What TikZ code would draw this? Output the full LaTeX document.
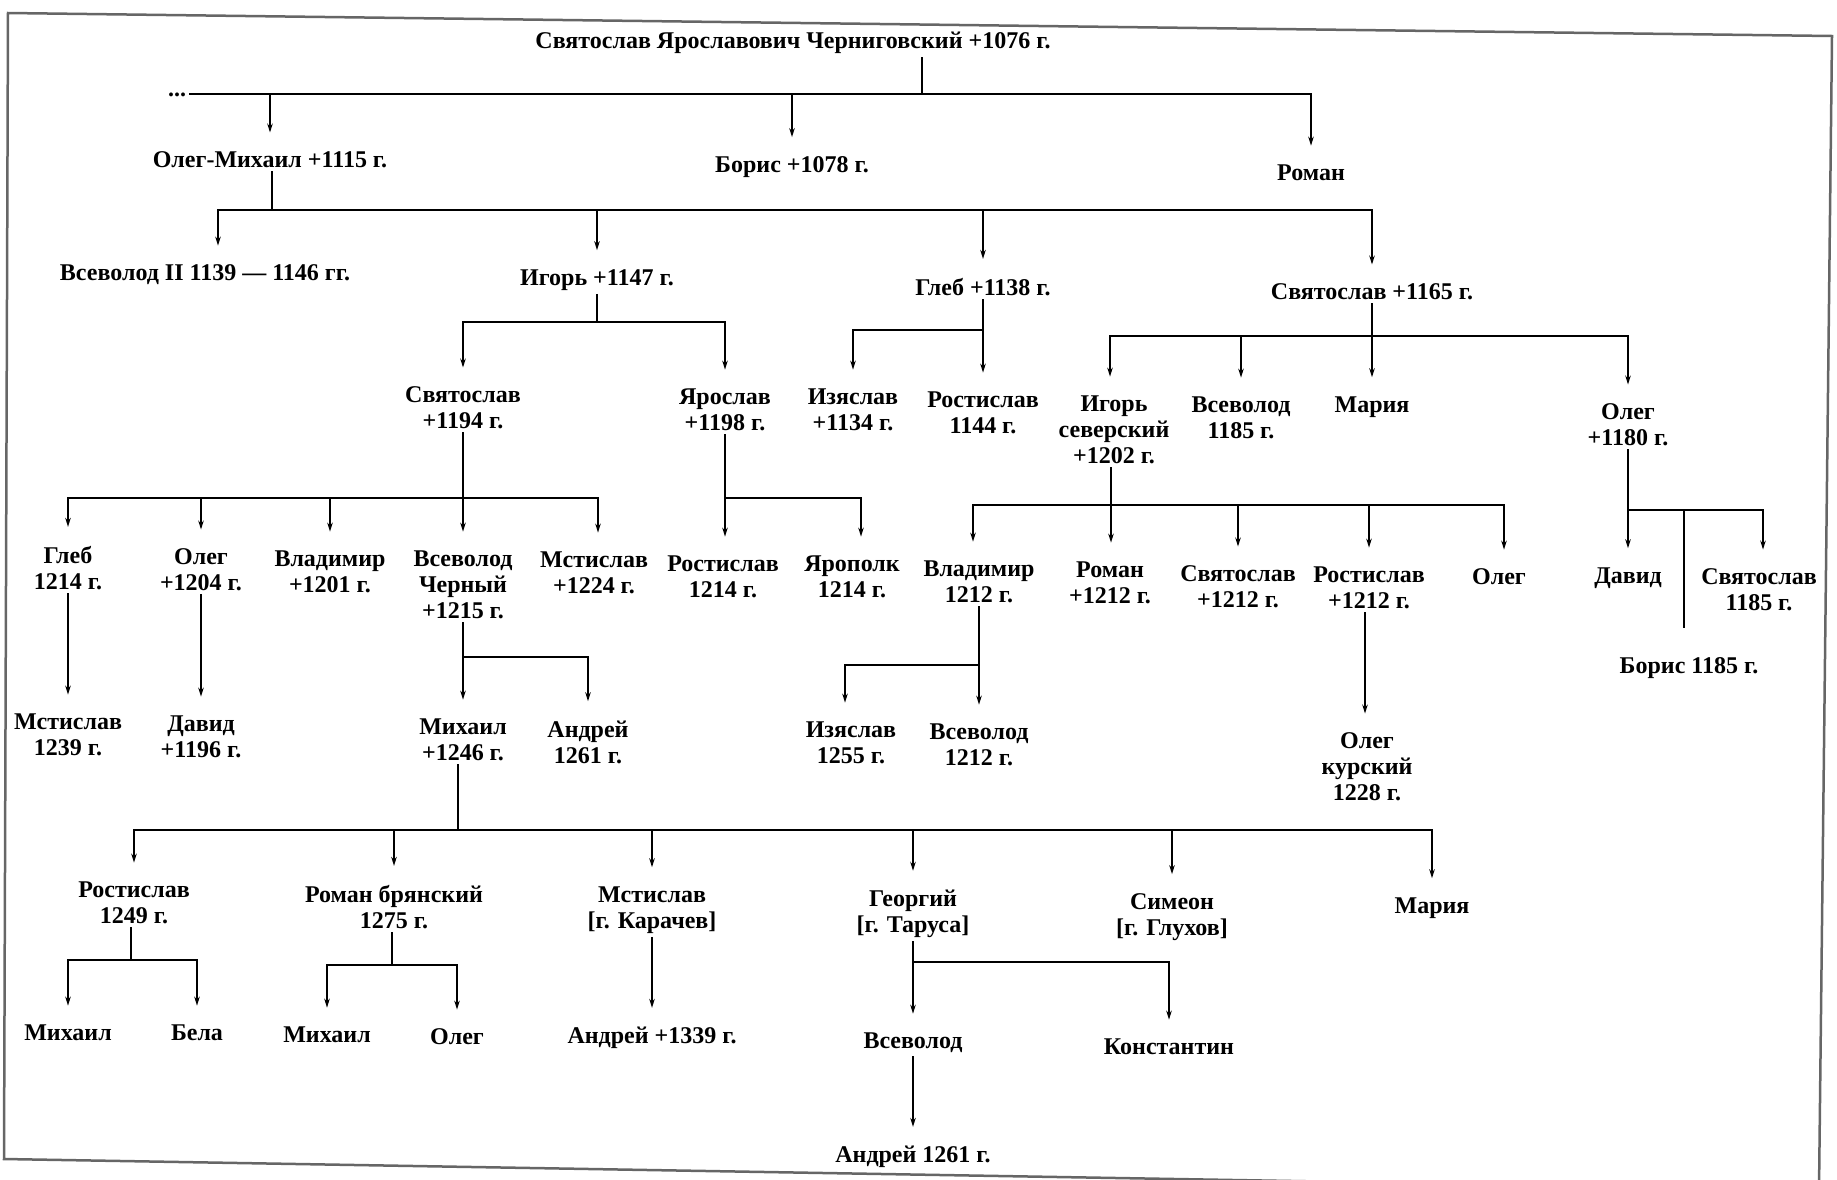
\documentclass[tikz,border=0pt]{standalone}
\usepackage{fontspec}
\setmainfont{Liberation Serif}
\usetikzlibrary{arrows.meta}

\begin{document}
\begin{tikzpicture}[x=1pt,y=-1pt,line width=2.7pt,
    person/.style={align=center, font=\fontsize{24}{26}\selectfont\bfseries, inner sep=2pt},
    arr/.style={-{Stealth[length=9pt,width=5.5pt]}, shorten >=16pt},
    tail/.style={shorten >=26pt}]
        \useasboundingbox (0,0) rectangle (1837,1179);
        % Page frame
        \draw[black!60, line width=2.5pt] (8,13) -- (1832,36) -- (1819,1190) -- (4,1159) -- cycle;

        % --- GENERATION 0 ---
        \node[person] (sv0) at (793,43) {Святослав Ярославович Черниговский +1076 г.};
        \node[person] (dots) at (177,95) {...};
        \node[person] (om) at (270,160) {Олег-Михаил +1115 г.};
        \node[person] (bor) at (792,167) {Борис +1078 г.};
        \node[person] (rom) at (1311,173) {Роман};
        \coordinate (b0) at (922,94);
        \draw (sv0.south -| b0) -- (b0);
        \draw (dots.east |- b0) -- (b0);
        \draw[arr] (b0) -| (rom.north);
        \foreach \c in {om,bor} \draw[arr] (\c |- b0) -- (\c.north);

        % --- GENERATION 1 ---
        \node[person] (vs2) at (205,275) {Всеволод II 1139 — 1146 гг.};
        \node[person] (ig) at (597,280) {Игорь +1147 г.};
        \node[person] (gl) at (983,287) {Глеб +1138 г.};
        \node[person] (sv1) at (1372,292) {Святослав +1165 г.};
        \coordinate (b1) at (272,210);
        \draw (om.south -| b1) -- (b1);
        \draw[arr] (b1) -| ([xshift=13pt]vs2.north);
        \draw[arr] (b1) -| (sv1.north);
        \foreach \c in {ig,gl} \draw[arr] (\c |- b1) -- (\c.north);

        % --- GENERATION 2 ---
        \node[person] (sv2) at (463,408) {Святослав\\+1194 г.};
        \node[person] (ya) at (725,410) {Ярослав\\+1198 г.};
        \node[person] (iz) at (853,410) {Изяслав\\+1134 г.};
        \node[person] (ro1) at (983,413) {Ростислав\\1144 г.};
        \node[person] (igs) at (1114,430) {Игорь\\северский\\+1202 г.};
        \node[person] (vs3) at (1241,418) {Всеволод\\1185 г.};
        \node[person] (mar) at (1372,407) {Мария};
        \node[person] (ol1) at (1628,425) {Олег\\+1180 г.};
        % Igor
        \coordinate (b2a) at (597,322);
        \draw (ig.south) -- (b2a);
        \draw[arr] (b2a) -| (sv2.north);
        \draw[arr] (b2a) -| (ya.north);
        % Gleb
        \coordinate (b2b) at (983,330);
        \draw[arr] (gl.south) -- (ro1.north);
        \draw[arr] (b2b) -| (iz.north);
        % Svyatoslav
        \coordinate (b2c) at (1372,336);
        \draw[arr] (sv1.south) -- (mar.north);
        \draw[arr] (b2c) -| ([xshift=-4pt]igs.north);
        \draw[arr] (b2c) -| (ol1.north);
        \draw[arr] (vs3 |- b2c) -- (vs3.north);

        % --- GENERATION 3 ---
        \node[person] (g2) at (68,568) {Глеб\\1214 г.};
        \node[person] (o2) at (201,570) {Олег\\+1204 г.};
        \node[person] (vl2) at (330,572) {Владимир\\+1201 г.};
        \node[person] (vsc) at (463,585) {Всеволод\\Черный\\+1215 г.};
        \node[person] (ms2) at (594,573) {Мстислав\\+1224 г.};
        \node[person] (ro2) at (723,577) {Ростислав\\1214 г.};
        \node[person] (yp) at (852,577) {Ярополк\\1214 г.};
        \node[person] (vl3) at (979,582) {Владимир\\1212 г.};
        \node[person] (ro3) at (1110,583) {Роман\\+1212 г.};
        \node[person] (sv3) at (1238,587) {Святослав\\+1212 г.};
        \node[person] (ro4) at (1369,588) {Ростислав\\+1212 г.};
        \node[person] (ol3) at (1499,577) {Олег};
        \node[person] (dav) at (1628,578) {Давид};
        \node[person] (sv4) at (1759,590) {Святослав\\1185 г.};
        \node[person] (bor2) at (1689,668) {Борис 1185 г.};
        % Svyatoslav +1194
        \coordinate (b3a) at (463,498);
        \draw[arr] (sv2.south) -- (vsc.north);
        \draw[arr] (b3a) -| (g2.north);
        \draw[arr] (b3a) -| ([xshift=4pt]ms2.north);
        \foreach \c in {o2,vl2} \draw[arr] (\c |- b3a) -- (\c.north);
        % Yaroslav
        \coordinate (b3b) at (725,498);
        \draw[arr] (ya.south) -- (ya.south |- ro2.north);
        \draw[arr] (b3b) -| ([xshift=9pt]yp.north);
        % Igor severskiy
        \coordinate (b3c) at (1111,505);
        \draw[arr] (igs.south -| b3c) -- (b3c |- ro3.north);
        \draw[arr] (b3c) -| ([xshift=-6pt]vl3.north);
        \draw[arr] (b3c) -| ([xshift=5pt]ol3.north);
        \foreach \c in {sv3,ro4} \draw[arr] (\c |- b3c) -- (\c.north);
        % Oleg +1180
        \coordinate (b3d) at (1628,510);
        \draw[arr] (ol1.south) -- (dav.north);
        \draw[arr] (b3d) -| ([xshift=4pt]sv4.north);
        \draw[tail] ([xshift=-5pt]bor2.north |- b3d) -- ([xshift=-5pt]bor2.north);

        % --- GENERATION 4 ---
        \node[person] (ms3) at (68,735) {Мстислав\\1239 г.};
        \node[person] (dv) at (201,737) {Давид\\+1196 г.};
        \node[person] (mi) at (463,740) {Михаил\\+1246 г.};
        \node[person] (an) at (588,742) {Андрей\\1261 г.};
        \node[person] (iz2) at (851,743) {Изяслав\\1255 г.};
        \node[person] (vs4) at (979,745) {Всеволод\\1212 г.};
        \node[person] (olk) at (1367,767) {Олег\\курский\\1228 г.};
        \draw[arr] (g2.south) -- (ms3.north);
        \draw[arr] (o2.south) -- (dv.north);
        % Vsevolod Cherny
        \coordinate (b4a) at (463,657);
        \draw[arr] (vsc.south) -- (mi.north);
        \draw[arr] (b4a) -| (an.north);
        % Vladimir 1212
        \coordinate (b4b) at (979,665);
        \draw[arr] (vl3.south) -- (vs4.north);
        \draw[arr] (b4b) -| ([xshift=-6pt]iz2.north);
        % Rostislav +1212
        \draw[arr] ([xshift=-4pt]ro4.south) -- ([xshift=-2pt]olk.north);

        % --- GENERATION 5 ---
        \node[person] (ro5) at (134,903) {Ростислав\\1249 г.};
        \node[person] (rb) at (394,907) {Роман брянский\\1275 г.};
        \node[person] (ms5) at (652,910) {Мстислав\\{[г. Карачев]}};
        \node[person] (ge) at (913,914) {Георгий\\{[г. Таруса]}};
        \node[person] (si) at (1172,917) {Симеон\\{[г. Глухов]}};
        \node[person] (ma2) at (1432,908) {Мария};
        \coordinate (b5) at (458,830);
        \draw (mi.south -| b5) -- (b5);
        \draw[arr] (b5) -| (ro5.north);
        \draw[arr] (b5) -| (ma2.north);
        \foreach \c in {rb,ms5,ge,si} \draw[arr] (\c |- b5) -- (\c.north);

        % --- GENERATION 6 ---
        \node[person] (mi6) at (68,1033) {Михаил};
        \node[person] (be) at (197,1033) {Бела};
        \node[person] (mi7) at (327,1035) {Михаил};
        \node[person] (ol7) at (457,1037) {Олег};
        \node[person] (an6) at (652,1038) {Андрей +1339 г.};
        \node[person] (vs6) at (913,1043) {Всеволод};
        \node[person] (ko) at (1169,1047) {Константин};
        \node[person] (an7) at (913,1157) {Андрей 1261 г.};
        % Rostislav 1249
        \coordinate (b6a) at (131,960);
        \draw (ro5.south -| b6a) -- (b6a);
        \draw[arr] (b6a) -| (mi6.north);
        \draw[arr] (b6a) -| (be.north);
        % Roman bryanskiy
        \coordinate (b6b) at (392,965);
        \draw (rb.south -| b6b) -- (b6b);
        \draw[arr] (b6b) -| (mi7.north);
        \draw[arr] (b6b) -| (ol7.north);
        % Mstislav, Georgiy
        \draw[arr] (ms5.south) -- (an6.north);
        \coordinate (b6c) at (913,962);
        \draw[arr] (ge.south) -- (vs6.north);
        \draw[arr] (b6c) -| (ko.north);
        \draw[arr] (vs6.south) -- (an7.north);
\end{tikzpicture}
\end{document}
